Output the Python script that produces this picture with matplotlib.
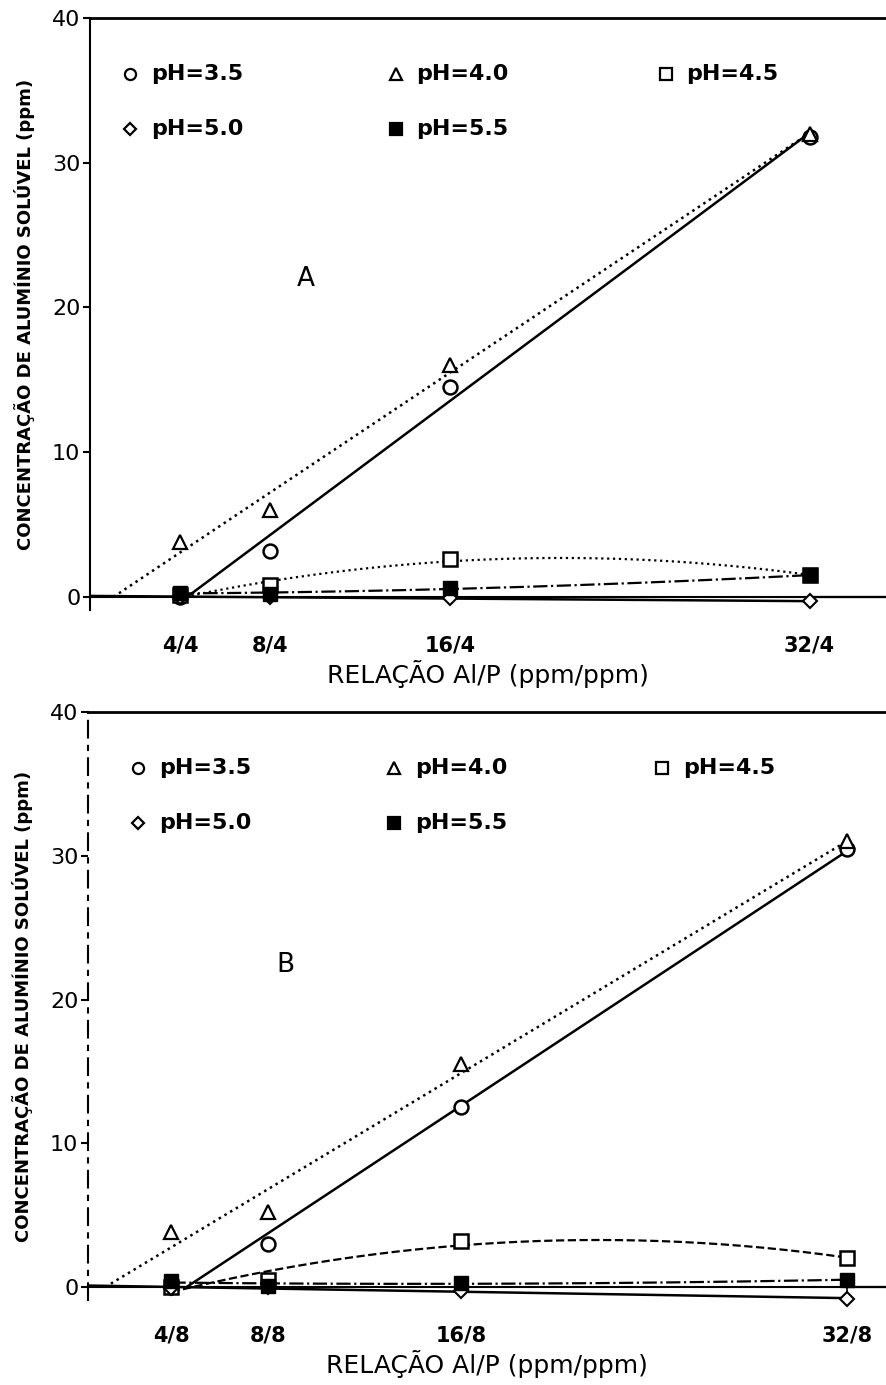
import numpy as np
import matplotlib
matplotlib.use("Agg")
import matplotlib.pyplot as plt

# Al/P ratio (numerator, ppm)
ratio = [4, 8, 16, 32]
ticklabels_a = ["4/4", "8/4", "16/4", "32/4"]
ticklabels_b = ["4/8", "8/8", "16/8", "32/8"]

# soluble Al (ppm), panel A (P = 4 ppm)
a_ph35 = [0.0, 3.2, 14.5, 31.8]
a_ph40 = [3.8, 6.0, 16.0, 32.0]
a_ph45 = [0.1, 0.8, 2.6, 1.5]
a_ph50 = [0.0, 0.0, -0.1, -0.3]
a_ph55 = [0.3, 0.2, 0.6, 1.5]

# soluble Al (ppm), panel B (P = 8 ppm)
b_ph35 = [0.0, 3.0, 12.5, 30.5]
b_ph40 = [3.8, 5.2, 15.5, 31.0]
b_ph45 = [0.0, 0.5, 3.2, 2.0]
b_ph50 = [-0.1, 0.0, -0.3, -0.8]
b_ph55 = [0.4, 0.1, 0.3, 0.5]

FONT = "DejaVu Sans"


def draw_panel(ax, series, ticklabels, letter, letter_pos, xlim, legend_x, low_style):
    x = np.array(ratio, dtype=float)
    ph35, ph40, ph45, ph50, ph55 = [np.array(s) for s in series]

    ax.spines["bottom"].set_position(("data", 0))

    # linear fits for the two acid treatments, drawn from y=0 upwards
    for y, ls in [(ph35, "-"), (ph40, ":")]:
        k, b = np.polyfit(x, y, 1)
        x0 = max(-b / k, xlim[0])
        xs = np.linspace(x0, 32, 50)
        ax.plot(xs, k * xs + b, color="black", lw=1.8, ls=ls)

    # smooth curves for the low values
    xs = np.linspace(4, 32, 200)
    for y, ls in [(ph45, low_style), (ph55, "-.")]:
        c = np.polyfit(x, y, 2)
        ax.plot(xs, np.polyval(c, xs), color="black", lw=1.6, ls=ls)
    xs = np.linspace(xlim[0], 32, 200)
    c = np.polyfit(x, ph50, 1)
    ax.plot(xs, np.polyval(c, xs), color="black", lw=1.8)
    ax.plot([32, xlim[1]], [0, 0], color="black", lw=1.6)

    mk = dict(color="black", ms=10, ls="none", clip_on=False, zorder=5)
    ax.plot(x, ph35, marker="o", mfc="white", mew=1.8, **mk)
    ax.plot(x, ph40, marker="^", mfc="white", mew=1.6, **mk)
    ax.plot(x, ph45, marker="s", mfc="white", mew=1.8, **mk)
    ax.plot(x, ph50, marker="D", mfc="white", mew=1.5, ms=7, color="black",
            ls="none", clip_on=False, zorder=5)
    ax.plot(x, ph55, marker="s", mfc="black", **mk)

    # legend written inside the plot
    legend = [
        (legend_x[0], 36.1, "o", "white", "pH=3.5"),
        (legend_x[1], 36.1, "^", "white", "pH=4.0"),
        (legend_x[2], 36.1, "s", "white", "pH=4.5"),
        (legend_x[0], 32.3, "D", "white", "pH=5.0"),
        (legend_x[1], 32.3, "s", "black", "pH=5.5"),
    ]
    for lx, ly, m, fc, txt in legend:
        ax.plot(lx, ly, marker=m, mfc=fc, color="black", ms=8 if m != "D" else 6, mew=1.6)
        ax.text(lx + 0.9, ly, txt, fontsize=16, fontweight="bold", family=FONT,
                va="center", ha="left")

    ax.text(letter_pos[0], letter_pos[1], letter, fontsize=19, family=FONT,
            ha="center", va="center")

    ax.set_xlim(*xlim)
    ax.set_ylim(-0.9, 40)
    ax.set_xticks(ratio)
    ax.set_xticklabels(ticklabels, fontsize=15, fontweight="bold", family=FONT)
    ax.set_yticks([0, 10, 20, 30, 40])
    ax.set_yticklabels(["0", "10", "20", "30", "40"], fontsize=16, family=FONT)
    ax.tick_params(axis="x", length=4, width=1.2, pad=24)
    ax.tick_params(axis="y", length=5, width=1.5, direction="out", pad=2)
    ax.spines["right"].set_visible(False)
    ax.spines["top"].set_linewidth(2)
    ax.spines["left"].set_linewidth(1.5)
    ax.spines["bottom"].set_linewidth(1.5)
    ax.set_ylabel("CONCENTRAÇÃO DE ALUMÍNIO SOLÚVEL (ppm)", fontsize=13,
                  fontweight="bold", family=FONT, labelpad=12)
    ax.set_xlabel("RELAÇÃO Al/P (ppm/ppm)", fontsize=18, family=FONT, labelpad=3)


fig = plt.figure(figsize=(8.86, 13.85), dpi=100)
ax_a = fig.add_axes([0.1016, 0.5596, 0.8984, 0.4274])
ax_b = fig.add_axes([0.0993, 0.0614, 0.9007, 0.4245])

draw_panel(ax_a, [a_ph35, a_ph40, a_ph45, a_ph50, a_ph55], ticklabels_a, "A",
           (9.6, 22.0), (0.0, 35.4), (1.8, 13.6, 25.6), ":")
draw_panel(ax_b, [b_ph35, b_ph40, b_ph45, b_ph50, b_ph55], ticklabels_b, "B",
           (8.7, 22.4), (0.54, 33.6), (2.6, 13.2, 24.3), "--")
ax_b.spines["left"].set_linestyle((0, (8, 4, 2, 4)))

fig.savefig("out.png", dpi=100)
